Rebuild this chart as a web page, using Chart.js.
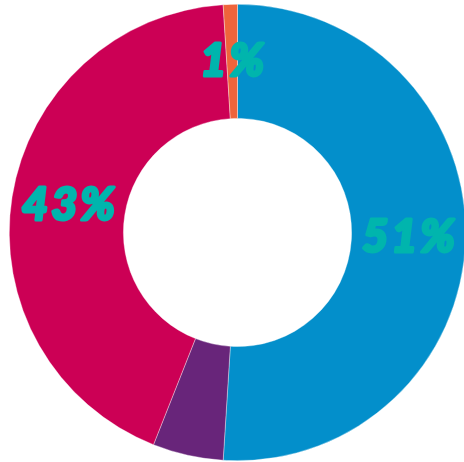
<!DOCTYPE html>
<html>
<head>
<meta charset="utf-8">
<script src="https://cdn.jsdelivr.net/npm/chart.js@4/dist/chart.umd.min.js"></script>
<style>
  html, body { margin: 0; padding: 0; background: #fff; overflow: hidden; }
  body { width: 464px; height: 462px; position: relative; }
  #wrap { position: absolute; left: 9px; top: 4px; width: 457px; height: 457px; }
</style>
</head>
<body>
<div id="wrap"><canvas id="donut"></canvas></div>
<script>
// slices go clockwise from 12 o'clock
const groups = ['Group A', 'Group B', 'Group C', 'Group D'];
const shares = [51, 5, 43, 1];
const showLabel = [true, false, true, true];

const sliceColors = ['#038fcb', '#68257a', '#cc0055', '#ef643b'];
const labelColor = '#00b5ad';

// writes the percentage in the middle of each arc
// (stroked in the same colour so the italic reads heavier)
const percentLabels = {
  id: 'percentLabels',
  afterDatasetsDraw(chart) {
    const ctx = chart.ctx;
    const arcs = chart.getDatasetMeta(0).data;
    ctx.save();
    ctx.font = 'italic 900 45px Lato, "Open Sans", sans-serif';
    ctx.letterSpacing = '3px';
    ctx.fillStyle = labelColor;
    ctx.strokeStyle = labelColor;
    ctx.lineWidth = 3;
    ctx.lineJoin = 'round';
    ctx.textAlign = 'center';
    ctx.textBaseline = 'middle';
    arcs.forEach((arc, i) => {
      if (!showLabel[i]) return;
      const p = arc.getCenterPoint();
      const txt = shares[i] + '%';
      ctx.strokeText(txt, p.x + 1.5, p.y);
      ctx.fillText(txt, p.x + 1.5, p.y);
    });
    ctx.restore();
  }
};

const config = {
  type: 'doughnut',
  data: {
    labels: groups,
    datasets: [{
      data: shares,
      backgroundColor: sliceColors,
      borderColor: 'rgba(255,255,255,0.6)',
      borderWidth: 0.6
    }]
  },
  options: {
    responsive: true,
    maintainAspectRatio: false,
    animation: false,
    cutout: '50%',
    layout: { padding: 0 },
    plugins: {
      legend: { display: false },
      tooltip: { enabled: false }
    }
  },
  plugins: [percentLabels]
};

new Chart(document.getElementById('donut'), config);
</script>
</body>
</html>
